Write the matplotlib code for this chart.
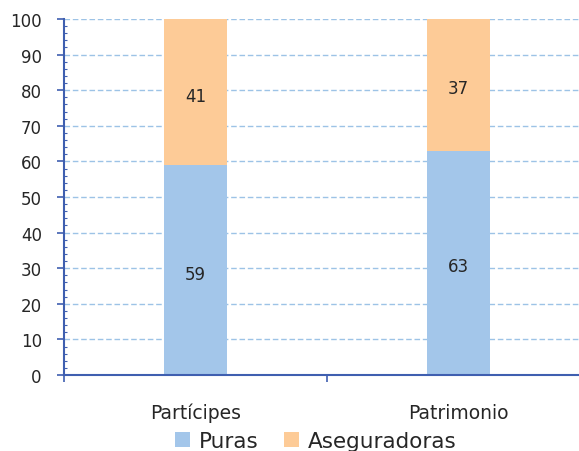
import matplotlib
matplotlib.use("Agg")
import matplotlib.pyplot as plt
import numpy as np
from matplotlib.ticker import MultipleLocator

categories = ["Partícipes", "Patrimonio"]
puras = [59, 63]
aseguradoras = [41, 37]
series_names = ["Puras", "Aseguradoras"]
yticks = [0, 10, 20, 30, 40, 50, 60, 70, 80, 90, 100]

plt.rcParams['font.family'] = ['DejaVu Sans']

fig = plt.figure(figsize=(5.79, 4.52), dpi=100)
ax = fig.add_axes([64/579, 1-376/452, (590-64)/579, (376-20)/452])

x = np.arange(len(categories))
w = 0.243
blue = "#A3C6EA"
orange = "#FDCB97"
b1 = ax.bar(x, puras, w, color=blue, label=series_names[0], zorder=3)
b2 = ax.bar(x, aseguradoras, w, bottom=puras, color=orange, label=series_names[1], zorder=3)

for i in range(len(categories)):
    ax.text(x[i], puras[i]/2 - 1, str(puras[i]), ha="center", va="center", fontsize=12, color="#262626", zorder=4)
    ax.text(x[i], puras[i] + aseguradoras[i]/2 - 1, str(aseguradoras[i]), ha="center", va="center", fontsize=12, color="#262626", zorder=4)

ax.set_xlim(-0.5, 1.5)
ax.set_ylim(0, 100)
ax.set_yticks(yticks)
ax.set_yticklabels([str(t) for t in yticks], fontsize=12, color="#262626")
ax.yaxis.set_minor_locator(MultipleLocator(2))
ax.set_xticks([-0.5, 0.5, 1.5])
ax.set_xticklabels([])
ax.set_xticks(x, minor=True)
ax.set_xticklabels(categories, minor=True, fontsize=13.5, color="#262626")
ax.tick_params(axis="x", which="minor", length=0, pad=20)
ax.tick_params(axis="x", which="major", length=5, color="#3F5FB0", width=1.2, direction="out")
ax.tick_params(axis="y", which="major", length=5, color="#3F5FB0", width=1.2, pad=11)
ax.tick_params(axis="y", which="minor", length=2, color="#3F5FB0", width=0.8, direction="in")

ax.grid(axis="y", color="#9DC3E6", linestyle=(0, (4, 2)), linewidth=1, zorder=0)
for s in ["top", "right"]:
    ax.spines[s].set_visible(False)
for s in ["left", "bottom"]:
    ax.spines[s].set_color("#3F5FB0")
    ax.spines[s].set_linewidth(1.5)
ax.spines["bottom"].set_zorder(5)

leg = fig.legend(handles=[b1, b2], labels=series_names, loc="center", bbox_to_anchor=(316/579, 1-442/452),
                 ncol=2, frameon=False, fontsize=15.5, handlelength=0.7, handleheight=0.7,
                 handletextpad=0.4, columnspacing=1.2, labelcolor="#262626")

fig.savefig("out.png", dpi=100)
